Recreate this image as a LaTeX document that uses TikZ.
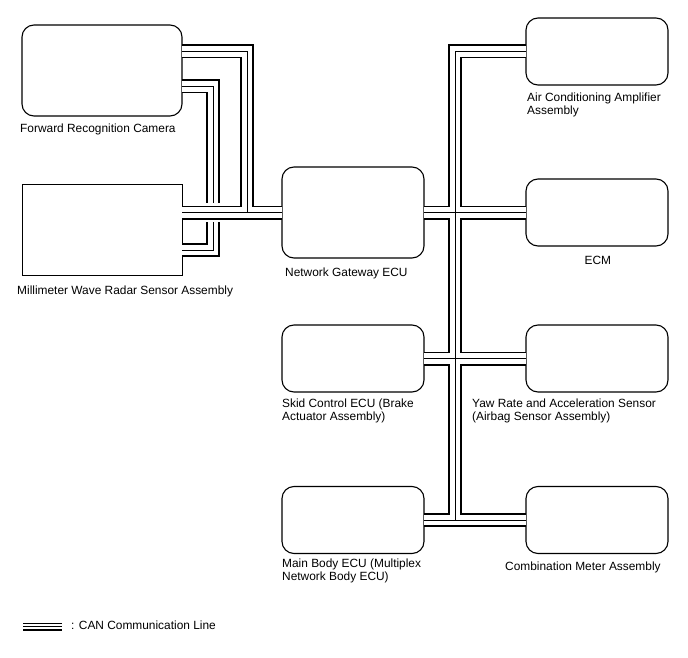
\documentclass[tikz,border=0pt]{standalone}
\usepackage{fontspec}
\setmainfont{Liberation Sans}
\newcommand{\canpaths}[1]{%
  \draw[#1] (radar.east |- gw.west) -- (gw.west);
  \draw[#1] (cam.east |- abend) -- (abend) -- (ajoin);
  \draw[#1] (cam.east |- bbend) -- (bbend) -- (bgapa);
  \draw[#1] (bgapb) -- (bbendb) -- (radar.east |- bbendb);
  \draw[#1] (ac.west) -- (ttop) -- (tbot);
  \draw[#1] (gw.east) -- (ecm.west);
  \draw[#1] (skid.east) -- (yaw.west);
  \draw[#1] (mb.east) -- (comb.west);
}
\begin{document}
\begin{tikzpicture}[x=1pt,y=-1pt,
  box/.style={draw=black, line width=1.1pt, rounded corners=12pt,
    minimum width=142pt, minimum height=67pt, inner sep=0pt, outer sep=0pt},
  lab/.style={font=\fontsize{11.9}{13}\selectfont, inner sep=0pt,
    anchor=base west, align=left},
  busouter/.style={line width=14pt, black, line join=miter, line cap=butt},
  businner/.style={line width=10.4pt, white, line join=miter, line cap=butt},
  buscenter/.style={line width=0.9pt, black, line join=miter, line cap=butt},
  legline/.style={line width=1.3pt, black}]
\useasboundingbox (0,0) rectangle (688,658);

% boxes
\node[box, minimum width=160pt, minimum height=91pt] (cam) at (102,70.5) {};
\node[box, sharp corners, line width=1.25pt, minimum width=160pt, minimum height=91pt] (radar) at (102.2,230.3) {};
\node[box, minimum height=91pt] (gw) at (353,212.5) {};
\node[box] (ac) at (597,51.5) {};
\node[box] (ecm) at (597,212.5) {};
\node[box] (yaw) at (597,358.5) {};
\node[box] (comb) at (597,520) {};
\node[box] (skid) at (353,358.5) {};
\node[box] (mb) at (353,520) {};

% bend points
\coordinate (abend) at (247,51.5);
\coordinate (ajoin) at (247,212.5);
\coordinate (bbend) at (213,86.5);
\coordinate (bgapa) at (213,203);
\coordinate (bgapb) at (213,222);
\coordinate (bbendb) at (213,250);
\coordinate (ttop) at (455,51.5);
\coordinate (tbot) at (455,520);

% CAN buses (layered)
\canpaths{busouter}
\canpaths{businner}
\canpaths{buscenter}

% labels
\node[lab] (lcam) at (20,132.5) {Forward Recognition Camera};
\node[lab] (lradar) at (17,294) {Millimeter Wave Radar Sensor Assembly};
\node[lab] (lgw) at (285,276.5) {Network Gateway ECU};
\node[lab] (lac) at (527,114.3) {Air Conditioning Amplifier\\Assembly};
\node[lab] (lecm) at (584.5,264) {ECM};
\node[lab] (lskid) at (282,420.5) {Skid Control ECU (Brake\\Actuator Assembly)};
\node[lab] (lyaw) at (472,420.5) {Yaw Rate and Acceleration Sensor\\(Airbag Sensor Assembly)};
\node[lab] (lmb) at (282,580.5) {Main Body ECU (Multiplex\\Network Body ECU)};
\node[lab] (lcomb) at (505,570) {Combination Meter Assembly};

% legend
\draw[legline] (23,623.3) -- (62,623.3);
\draw[legline] (23,626.7) -- (62,626.7);
\draw[legline] (23,630) -- (62,630);
\node[lab] (lleg) at (71,629) {: CAN Communication Line};
\end{tikzpicture}
\end{document}
